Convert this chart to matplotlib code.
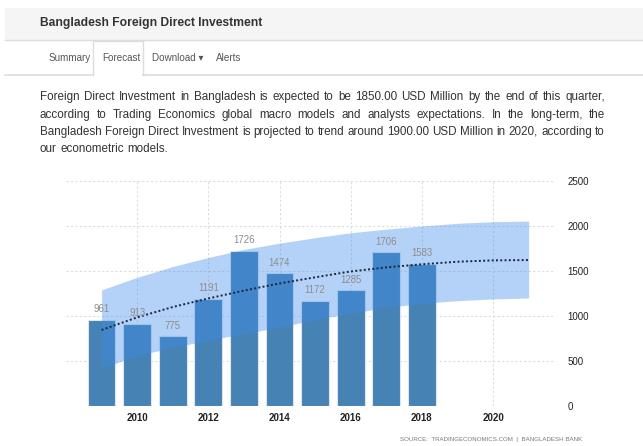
import matplotlib.pyplot as plt
from matplotlib.patches import Rectangle

# data
years = [2009, 2010, 2011, 2012, 2013, 2014, 2015, 2016, 2017, 2018]
fdi = [961, 913, 775, 1191, 1726, 1474, 1172, 1285, 1706, 1583]
fc_years = [2009, 2010, 2011, 2012, 2013, 2014, 2015, 2016, 2017, 2018, 2019, 2020, 2021]
trend = [845, 985, 1100, 1195, 1282, 1362, 1430, 1495, 1540, 1575, 1603, 1618, 1622]
upper = [1290, 1430, 1550, 1650, 1740, 1810, 1870, 1925, 1965, 2000, 2030, 2048, 2055]
lower = [420, 560, 650, 730, 805, 875, 960, 1030, 1095, 1140, 1170, 1190, 1200]
xticks = [2010, 2012, 2014, 2016, 2018, 2020]
yticks = [0, 500, 1000, 1500, 2000, 2500]

title = 'Bangladesh Foreign Direct Investment'
tabs = ['Summary', 'Forecast', 'Download \u25be', 'Alerts']
paragraph = [
    'Foreign Direct Investment in Bangladesh is expected to be 1850.00 USD Million by the end of this quarter,',
    'according to Trading Economics global macro models and analysts expectations. In the long-term, the',
    'Bangladesh Foreign Direct Investment is projected to trend around 1900.00 USD Million in 2020, according to',
    'our econometric models.',
]
source = 'SOURCE:  TRADINGECONOMICS.COM  |  BANGLADESH BANK'

plt.rcParams['font.family'] = ['Liberation Sans', 'DejaVu Sans']

W, H = 643, 446
fig = plt.figure(figsize=(W / 100, H / 100), dpi=100)

# page background in pixel coordinates
bg = fig.add_axes([0, 0, 1, 1], zorder=-1)
bg.set_xlim(0, W)
bg.set_ylim(H, 0)
bg.axis('off')

bg.add_patch(Rectangle((5, 8), W, 32, facecolor='#f5f5f5', edgecolor='none'))
bg.plot([5, W], [40, 40], color='#dddddd', lw=1)
bg.text(40, 23, title, fontsize=8.7, fontweight='bold', color='#333333', va='center')

# tabs
bg.plot([5, 93], [75, 75], color='#dddddd', lw=1.2)
bg.plot([143, W], [75, 75], color='#dddddd', lw=1.2)
bg.plot([93, 93, 143, 143], [75, 41, 41, 75], color='#dddddd', lw=1)
tab_x = [49, 102, 152, 216]
for tx, lab in zip(tab_x, tabs):
    bg.text(tx, 58, lab, fontsize=7.1, color='#555555', va='center')

# justified paragraph
renderer = fig.canvas.get_renderer()
left, right = 40, 605
line_y = [97, 115, 132, 149]
for i, (line, ly) in enumerate(zip(paragraph, line_y)):
    words = line.split(' ')
    texts = [bg.text(0, ly, w, fontsize=8.4, color='#333333', va='center') for w in words]
    widths = [t.get_window_extent(renderer).width for t in texts]
    if i < len(paragraph) - 1:
        gap = (right - left - sum(widths)) / (len(words) - 1)
    else:
        gap = texts[0].get_fontsize() * 1.389 * 0.3
    x = left
    for t, w in zip(texts, widths):
        t.set_x(x)
        x += w + gap

# chart
x0, x1 = 66, 555
ytop, ybot = 181, 406
ax = fig.add_axes([x0 / W, 1 - ybot / H, (x1 - x0) / W, (ybot - ytop) / H])
ax.set_facecolor('none')

ax.bar(years, fdi, width=0.78, color='#4682b4', edgecolor='#dbe6f0', linewidth=0.8, zorder=2)
ax.fill_between(fc_years, lower, upper, color='#3c8bea', alpha=0.38, linewidth=0, zorder=3)
ax.plot(fc_years, trend, color='#1a2440', linestyle=(0, (1, 1.2)), linewidth=1.4, zorder=4)

for x, v in zip(years, fdi):
    ax.annotate(str(v), (x, v), xytext=(0, 4), textcoords='offset points',
                ha='center', va='bottom', fontsize=6.9, color='#8c8c8c', zorder=5)

ax.set_xlim(2008.0, 2021.74)
ax.set_ylim(0, 2500)
ax.set_xticks(xticks)
ax.set_yticks(yticks)
ax.yaxis.tick_right()
ax.tick_params(axis='both', length=0, labelsize=7, colors='#222222')
ax.tick_params(axis='x', pad=5)
ax.tick_params(axis='y', pad=9)
for lab in ax.get_yticklabels():
    lab.set_horizontalalignment('left')
for lab in ax.get_xticklabels():
    lab.set_fontweight('bold')
ax.grid(True, color='#dddddd', linestyle=(0, (2, 2)), linewidth=0.8, zorder=0)
for s in ax.spines.values():
    s.set_visible(False)

bg.text(582, 440, source, fontsize=4.4, color='#777777', ha='right', va='center')

fig.savefig('out.png', dpi=100)
